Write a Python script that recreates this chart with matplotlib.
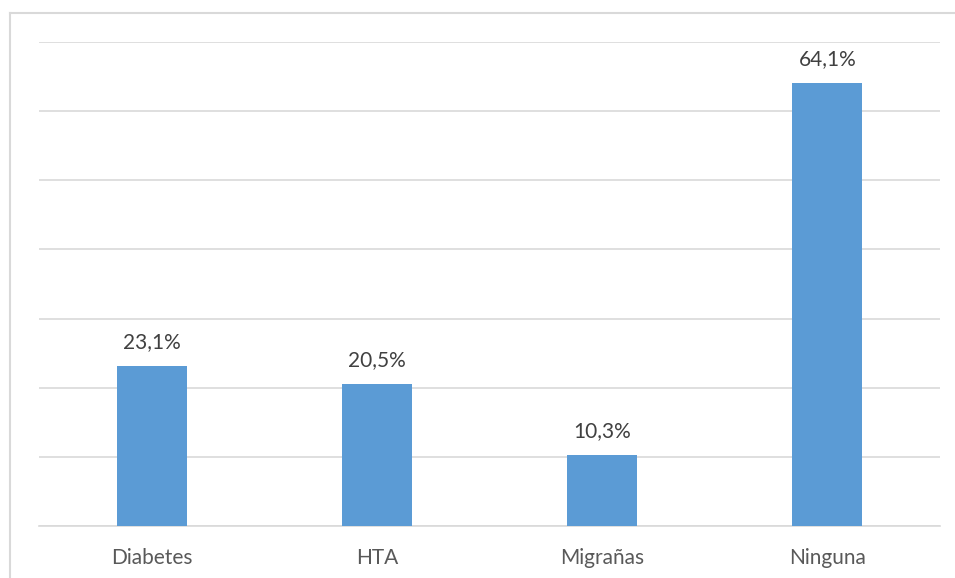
import matplotlib.pyplot as plt
from matplotlib.lines import Line2D

categorias = ["Diabetes", "HTA", "Migrañas", "Ninguna"]
porcentajes = [23.1, 20.5, 10.3, 64.1]
etiquetas = ["23,1%", "20,5%", "10,3%", "64,1%"]

plt.rcParams['font.family'] = ['Lato', 'DejaVu Sans']

fig = plt.figure(figsize=(9.55, 5.78), dpi=100)
ax = fig.add_axes([39 / 955, 1 - 526 / 578, 901 / 955, 484 / 578])

x = list(range(len(categorias)))
ax.bar(x, porcentajes, width=0.31, color="#5B9BD5", zorder=3)

for xi, v, t in zip(x, porcentajes, etiquetas):
    ax.annotate(t, (xi, v), xytext=(0, 13), textcoords="offset points",
                ha="center", va="baseline", fontsize=15, color="#404040")

ax.set_xlim(-0.5, 3.5)
ax.set_ylim(0, 70)
ax.set_yticks(range(0, 71, 10))
ax.yaxis.grid(True, color="#d9d9d9", linewidth=1.2, zorder=0)
ax.tick_params(axis="y", left=False, labelleft=False)
ax.tick_params(axis="x", length=0, pad=16, labelsize=15, labelcolor="#595959")
ax.set_xticks(x)
ax.set_xticklabels(categorias)
for s in ["top", "right", "left"]:
    ax.spines[s].set_visible(False)
ax.spines["bottom"].set_color("#d9d9d9")
ax.spines["bottom"].set_linewidth(1.2)

# marco exterior del gráfico
fig.add_artist(Line2D([10 / 955, 10 / 955], [0, 1 - 13 / 578], color="#d9d9d9", linewidth=1.5))
fig.add_artist(Line2D([10 / 955, 1], [1 - 13 / 578, 1 - 13 / 578], color="#d9d9d9", linewidth=1.5))

fig.savefig("out.png", dpi=100)
